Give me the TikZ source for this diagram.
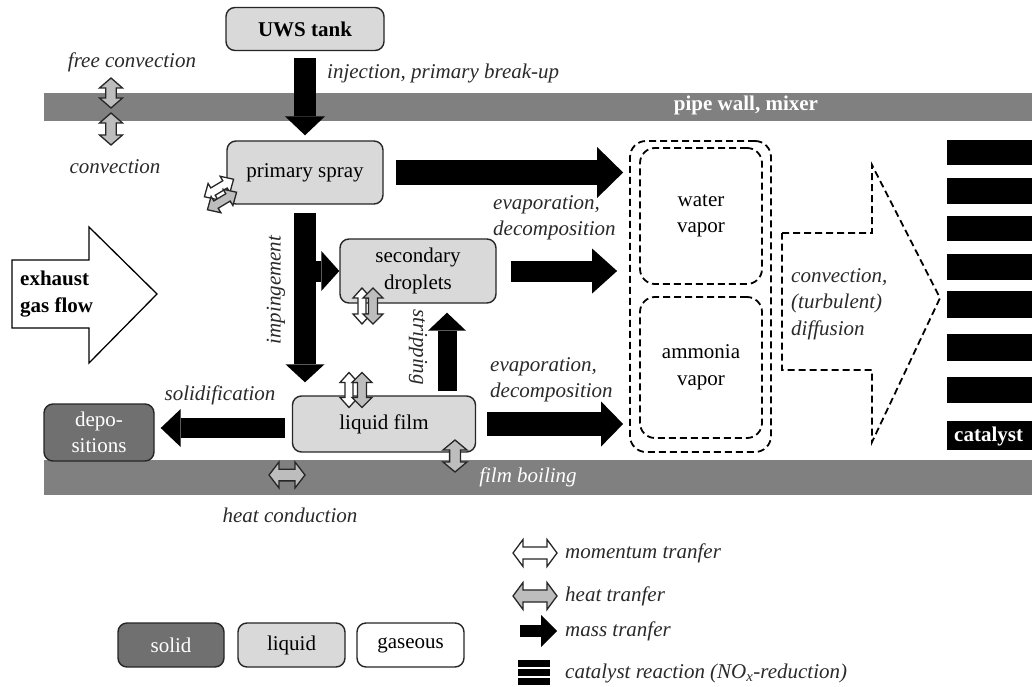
\documentclass[tikz,border=0pt]{standalone}
\usepackage{fontspec}
\setmainfont{LiberationSerif}[Extension=.ttf, UprightFont=*-Regular, BoldFont=*-Bold, ItalicFont=*-Italic, BoldItalicFont=*-BoldItalic]
\usetikzlibrary{arrows.meta,calc}
\definecolor{liq}{HTML}{D9D9D9}
\definecolor{sol}{HTML}{707070}
\definecolor{band}{HTML}{808080}
\definecolor{heatc}{HTML}{BDBDBD}
\definecolor{lab}{HTML}{2A2A2A}
\newcommand\fs{\fontsize{21}{26.5}\selectfont}
\newcommand\dblarr[5]{%
  \begin{scope}[shift={#2},rotate=#3]
    \draw[dbl,fill=#1] (-#4,0) -- (-#4+10,#5) -- (-#4+10,#5*0.45) -- (#4-10,#5*0.45) -- (#4-10,#5) -- (#4,0)
      -- (#4-10,-#5) -- (#4-10,-#5*0.45) -- (-#4+10,-#5*0.45) -- (-#4+10,-#5) -- cycle;
  \end{scope}}
\tikzset{
  box/.style={draw=black!85, line width=1.4pt, rounded corners=9pt, fill=liq, font=\fs, align=center, inner sep=0pt},
  gasbox/.style={draw=black, line width=1.8pt, dash pattern=on 7pt off 4pt, rounded corners=15pt, align=center, font=\fs, inner sep=0pt},
  dbl/.style={draw=black!85, line width=1.3pt, line join=miter},
  mass/.style n args={3}{line width=#1pt, black, -{Triangle[length=#3pt, width=#2pt, line width=0pt]}},
  lbl/.style={font=\fs\itshape, text=lab, inner sep=0pt, align=left},
  wtxt/.style={text=white, inner sep=0pt},
  bar/.style={fill=black},
}
\begin{document}
\begin{tikzpicture}[x=1pt,y=-1pt]
\useasboundingbox (0,0) rectangle (1032,687);
\fill[white] (0,0) rectangle (1032,687);

% bands
\fill[band] (44,93) rectangle (1032,121);
\fill[band] (44,460) rectangle (1032,495);
\node[wtxt, font=\fs\bfseries] (wall) at (746,105) {pipe wall,\ mixer};
\node[wtxt, font=\fs\itshape] (boil) at (528,477) {film boiling};

% boxes
\node[box, font=\fs\bfseries, minimum width=158pt, minimum height=43pt] (uws) at (305,29) {UWS tank};
\node[box, minimum width=156pt, minimum height=63pt] (ps) at (305,172.5) {primary spray};
\node[box, minimum width=156pt, minimum height=64pt] (sd) at (418,271) {secondary\\droplets};
\node[box, minimum width=183pt, minimum height=56pt] (lf) at (384,424) {liquid film};
\node[box, fill=sol, text=white, minimum width=110pt, minimum height=57pt] (dep) at (99,432.5) {depo-\\sitions};

\node[gasbox, minimum width=141pt, minimum height=311pt, rounded corners=16pt] (gas) at (700.5,296.5) {};
\node[gasbox, minimum width=122pt, minimum height=136pt] (wv) at (701,216) {water\\vapor};
\node[gasbox, minimum width=122pt, minimum height=141pt] (av) at (701,367.5) {ammonia\\vapor};

% exhaust gas flow arrow
\draw[line width=1.3pt, fill=white, line join=miter] (12,260) -- (89,260) -- (89,227) -- (157,294) -- (89,363) -- (89,328) -- (12,328) -- cycle;
\node[font=\fs\bfseries, align=left, anchor=west, inner sep=0pt] (exh) at (20,294) {exhaust\\gas flow};

% dashed gas flow arrow
\draw[line width=1.8pt, dash pattern=on 7pt off 4pt, line join=miter] (782,233) -- (872,233) -- (872,165) -- (940,298) -- (872,442) -- (872,370) -- (782,370) -- cycle;
\node[lbl, anchor=west] (conv) at (791,304) {convection,\\(turbulent)\\diffusion};

% catalyst
\fill[bar] (947,140) rectangle (1032,165);
\fill[bar] (947,178) rectangle (1032,204);
\fill[bar] (947,216) rectangle (1032,241);
\fill[bar] (947,254) rectangle (1032,280);
\fill[bar] (947,291) rectangle (1032,318);
\fill[bar] (947,334) rectangle (1032,361);
\fill[bar] (947,377) rectangle (1032,403);
\node[fill=black, minimum width=85pt, minimum height=29pt, inner sep=0pt] (cat) at (989.5,435.5) {};
\node[wtxt, font=\fs\bfseries, anchor=west] (cattxt) at (954,436) {catalyst};

% mass transfer arrows
\draw[mass={22}{40}{19}] ([yshift=-7pt]uws.south) -- ([yshift=5pt]ps.north);
\draw[mass={24}{51}{26}] ([xshift=12pt]ps.east) -- ([xshift=-6pt]gas.west |- ps.east);
\draw[mass={21}{45}{25}] ([xshift=14pt]sd.east) -- ([xshift=-12pt]gas.west |- sd.east);
\draw[mass={24}{45}{22}] ([xshift=11pt]lf.east) -- ([xshift=-6pt]gas.west |- lf.east);
\draw[mass={22}{39}{18}] ([yshift=-8pt]ps.south) -- ([yshift=13pt]ps.south |- lf.north);
\draw[mass={21}{40}{18}] (ps.south |- sd.west) -- (sd.west);
\draw[mass={19}{38}{18}] ([xshift=63pt,yshift=4pt]lf.north) -- ([xshift=63pt,yshift=-9pt]lf.north |- sd.south);
\draw[mass={20}{38}{20}] ([xshift=-7pt,yshift=-4pt]lf.west) -- ([xshift=6pt,yshift=-4pt]dep.east |- lf.west);

% momentum / heat double arrows
\dblarr{heatc}{(111,93)}{90}{15}{11.5}
\dblarr{heatc}{(111,129)}{90}{16}{11.5}
\dblarr{white}{(219,188)}{31}{17}{9.5}
\dblarr{heatc}{(222,201)}{31}{17}{9.5}
\dblarr{white}{(362,306)}{90}{18}{9}
\dblarr{heatc}{(373,306)}{90}{18}{10}
\dblarr{white}{(349,390)}{90}{17.5}{9}
\dblarr{heatc}{(362,390)}{90}{17.5}{10}
\dblarr{heatc}{(455,456)}{90}{16}{12}
\dblarr{heatc}{(287,475)}{0}{18}{13}

% labels
\node[lbl] (lfree) at (132,62) {free convection};
\node[lbl, anchor=west] (linj) at (327,73) {injection, primary break-up};
\node[lbl] (lconv) at (115,167) {convection};
\node[lbl, anchor=west] (lev1) at (493,218) {evaporation,\\decomposition};
\node[lbl, anchor=west] (lev2) at (490,380) {evaporation,\\decomposition};
\node[lbl, rotate=90] (limp) at (276,290) {impingement};
\node[lbl, rotate=-90] (lstr) at (418,347) {stripping};
\node[lbl] (lsol) at (220,395) {solidification};
\node[lbl] (lhc) at (290,515) {heat conduction};

% legend
\node[box, fill=sol, text=white, minimum width=106pt, minimum height=44pt] (lsolid) at (171,645) {solid};
\node[box, minimum width=107pt, minimum height=44pt] (lliq) at (291.5,645) {liquid};
\node[box, fill=white, minimum width=107pt, minimum height=44pt] (lgas) at (410.5,645) {gaseous};

\dblarr{white}{(535,553)}{0}{22}{13.5}
\dblarr{heatc}{(535,596)}{0}{22}{13.5}
\coordinate (lm1) at (520,631);
\coordinate (lm2) at (557,631);
\draw[mass={12}{32}{16}] (lm1) -- (lm2);
\fill[bar] (518,660) rectangle (550,667);
\fill[bar] (518,669) rectangle (550,676);
\fill[bar] (518,678) rectangle (550,685);

\node[lbl, anchor=west] (tmom) at (565,553) {momentum tranfer};
\node[lbl, anchor=west] (theat) at (565,596) {heat tranfer};
\node[lbl, anchor=west] (tmass) at (565,631) {mass tranfer};
\node[lbl, anchor=west] (tcat) at (565,673) {catalyst reaction (NO\textsubscript{x}-reduction)};
\end{tikzpicture}
\end{document}
